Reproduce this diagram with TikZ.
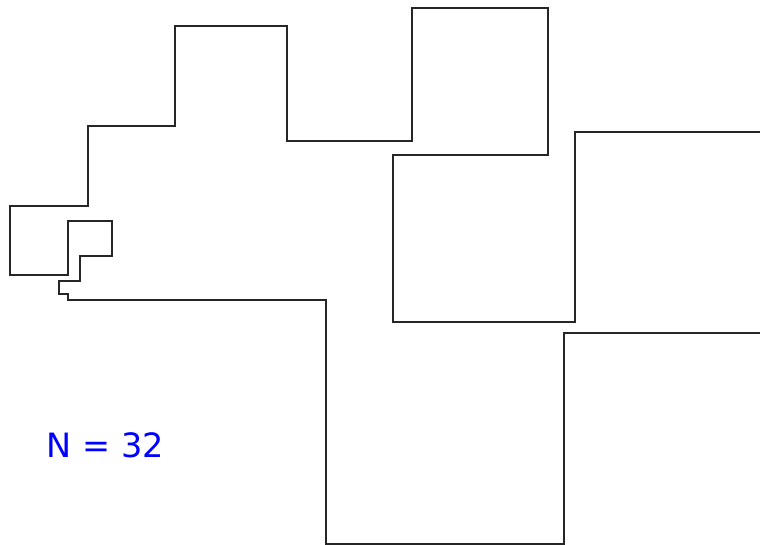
\documentclass[tikz,border=0pt]{standalone}
\usepackage{fontspec}
\newfontfamily\labelfont{DejaVu Sans}
\begin{document}
\begin{tikzpicture}[x=1pt, y=-1pt, walk/.style={draw=black!85, line width=1.2pt, line join=miter}]
				\useasboundingbox (0,0) rectangle (760,545);
				% Đường đi chính
				\draw[walk] (760,132) -- (575,132) -- (575,322) -- (393,322) -- (393,155) -- (548,155)
					-- (548,8) -- (412,8) -- (412,141) -- (287,141) -- (287,26) -- (175,26)
					-- (175,126) -- (88,126) -- (88,206) -- (10,206) -- (10,275) -- (68,275)
					-- (68,221) -- (112,221) -- (112,256) -- (80,256) -- (80,281) -- (59,281)
					-- (59,294) -- (68,294) -- (68,300) -- (326,300) -- (326,544) -- (564,544)
					-- (564,333) -- (760,333);
				% Nhãn số bước
				\node[text=blue, font=\labelfont\fontsize{33.5}{40}\selectfont, inner sep=0pt, anchor=base west] (steps) at (46.5,457) {N = 32};
			\end{tikzpicture}
\end{document}
